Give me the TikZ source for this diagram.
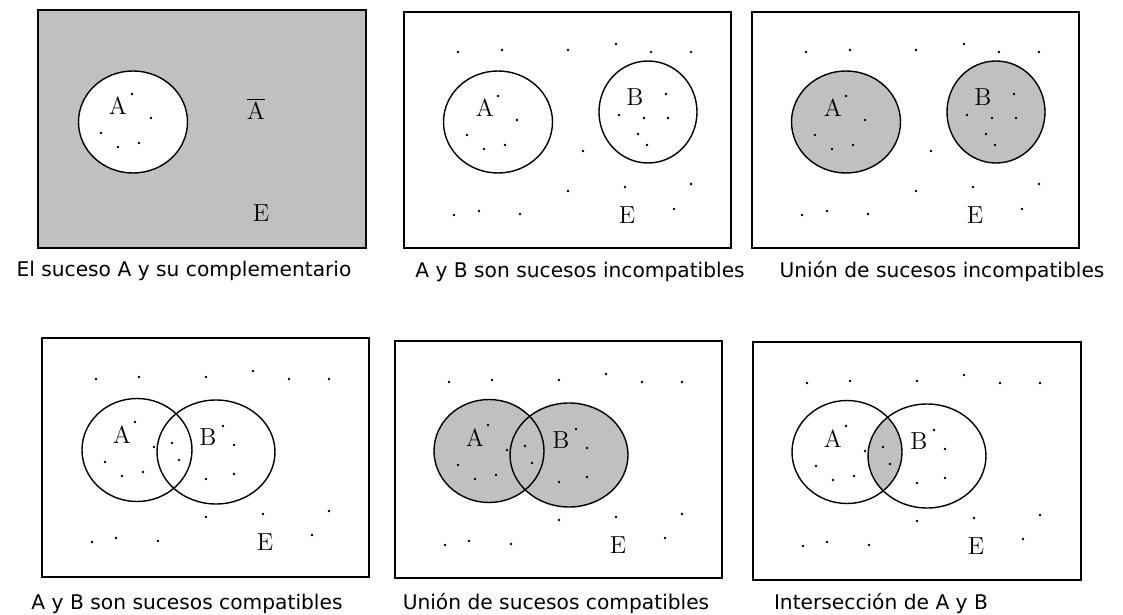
\documentclass[tikz,border=0pt]{standalone}
\usepackage{fontspec}
\newfontfamily\capfont{DejaVu Sans}
\definecolor{venngray}{RGB}{192,192,192}
\tikzset{
  panelbox/.style={draw,line width=0.9pt},
  setline/.style={draw,line width=0.8pt},
  setlabel/.style={font=\fontsize{14}{14}\selectfont,inner sep=0pt},
  captext/.style={font=\capfont\fontsize{11.5}{12}\selectfont,inner sep=0pt,anchor=base},
  pt/.style={fill=black}
}
% dot patterns, relative to the upper left corner of a panel
\newcommand{\adotsup}{94/84,113/108,63/123,80/137,101/133}
\newcommand{\restup}{54/40,98/38,164/38,212/32,247/40,287/40,179/139,262/82,215/103,240/106,264/106,234/122,243/133,164/179,221/175,287/172,270/197,50/203,75/199,116/202}
\newcommand{\dotslow}{54/41,97/39,164/39,211/33,247/41,287/41,93/84,112/109,130/105,137/122,63/124,80/138,101/134,181/88,192/107,164/141,192/136,164/179,221/176,287/173,270/197,50/204,74/200,116/203}

\begin{document}
\begin{tikzpicture}[x=0.02cm,y=-0.02cm]
\useasboundingbox (0,0) rectangle (1123,615);

% complement
\begin{scope}[shift={(38,10)}]
\fill[venngray] (0,0) rectangle (328,238);
\draw[panelbox] (0,0) rectangle (328,238);
\fill[white] (95,112) ellipse [x radius=54.5,y radius=51];
\draw[setline] (95,112) ellipse [x radius=54.5,y radius=51];
\foreach \x/\y in \adotsup {\fill[pt] (\x,\y) circle (0.75pt);}
\node[setlabel] (oneA) at (80,96) {A};
\node[setlabel] (oneAbar) at (218,99) {$\overline{\mathrm{A}}$};
\node[setlabel] (oneE) at (223,203) {E};
\end{scope}
\node[captext] (capone) at (184,276) {El suceso A y su complementario};

% incompatible
\begin{scope}[shift={(404,12)}]
\draw[panelbox] (0,0) rectangle (327,236);
\draw[setline] (94,110) ellipse [x radius=54.5,y radius=51];
\draw[setline] (244,100) ellipse [x radius=49,y radius=51];
\foreach \x/\y in \adotsup {\fill[pt] (\x,\y) circle (0.75pt);}
\foreach \x/\y in \restup {\fill[pt] (\x,\y) circle (0.75pt);}
\node[setlabel] (twoA) at (81,96) {A};
\node[setlabel] (twoB) at (231,85) {B};
\node[setlabel] (twoE) at (223,203) {E};
\end{scope}
\node[captext] (captwo) at (580,277) {A y B son sucesos incompatibles};

% union, incompatible
\begin{scope}[shift={(752,12)}]
\draw[panelbox] (0,0) rectangle (327,236);
\fill[venngray] (94,110) ellipse [x radius=54.5,y radius=51];
\fill[venngray] (244,100) ellipse [x radius=49,y radius=51];
\draw[setline] (94,110) ellipse [x radius=54.5,y radius=51];
\draw[setline] (244,100) ellipse [x radius=49,y radius=51];
\foreach \x/\y in \adotsup {\fill[pt] (\x,\y) circle (0.75pt);}
\foreach \x/\y in \restup {\fill[pt] (\x,\y) circle (0.75pt);}
\node[setlabel] (threeA) at (81,96) {A};
\node[setlabel] (threeB) at (231,85) {B};
\node[setlabel] (threeE) at (223,203) {E};
\end{scope}
\node[captext] (capthree) at (942,277) {Unión de sucesos incompatibles};

% compatible
\begin{scope}[shift={(42,338)}]
\draw[panelbox] (0,0) rectangle (327,239);
\draw[setline] (95,112) ellipse [x radius=55,y radius=51.5];
\draw[setline] (174,114) ellipse [x radius=59,y radius=52];
\foreach \x/\y in \dotslow {\fill[pt] (\x,\y) circle (0.75pt);}
\node[setlabel] (fourA) at (80,97) {A};
\node[setlabel] (fourB) at (166,99) {B};
\node[setlabel] (fourE) at (223,204) {E};
\end{scope}
\node[captext] (capfour) at (187,609) {A y B son sucesos compatibles};

% union, compatible
\begin{scope}[shift={(395,341)}]
\draw[panelbox] (0,0) rectangle (327,237);
\fill[venngray] (94,110) ellipse [x radius=55,y radius=51.5];
\fill[venngray] (174,114) ellipse [x radius=59,y radius=52];
\draw[setline] (94,110) ellipse [x radius=55,y radius=51.5];
\draw[setline] (174,114) ellipse [x radius=59,y radius=52];
\foreach \x/\y in \dotslow {\fill[pt] (\x,\y) circle (0.75pt);}
\node[setlabel] (fiveA) at (80,97) {A};
\node[setlabel] (fiveB) at (166,99) {B};
\node[setlabel] (fiveE) at (223,204) {E};
\end{scope}
\node[captext] (capfive) at (556,609) {Unión de sucesos compatibles};

% intersection
\begin{scope}[shift={(753,342)}]
\draw[panelbox] (0,0) rectangle (328,238);
\begin{scope}
\clip (94,110) ellipse [x radius=55,y radius=51.5];
\fill[venngray] (174,114) ellipse [x radius=59,y radius=52];
\end{scope}
\draw[setline] (94,110) ellipse [x radius=55,y radius=51.5];
\draw[setline] (174,114) ellipse [x radius=59,y radius=52];
\foreach \x/\y in \dotslow {\fill[pt] (\x,\y) circle (0.75pt);}
\node[setlabel] (sixA) at (80,97) {A};
\node[setlabel] (sixB) at (166,99) {B};
\node[setlabel] (sixE) at (223,204) {E};
\end{scope}
\node[captext] (capsix) at (881,609) {Intersección de A y B};
\end{tikzpicture}
\end{document}
